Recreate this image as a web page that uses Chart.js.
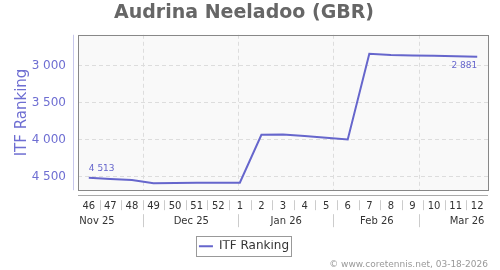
<!DOCTYPE html>
<html>
<head>
<meta charset="utf-8">
<script src="https://cdn.jsdelivr.net/npm/chart.js@4.4.1/dist/chart.umd.min.js"></script>
<style>
  html, body { margin: 0; padding: 0; background: #fff; }
  #wrap { width: 500px; height: 270px; }
</style>
</head>
<body>
<div id="wrap"><canvas id="chart"></canvas></div>
<script>
const weeks = ['46', '47', '48', '49', '50', '51', '52', '1', '2', '3', '4', '5', '6', '7', '8', '9', '10', '11', '12'];
const ranking = [4513, 4530, 4542, 4585, 4583, 4581, 4580, 4580, 3932, 3930, 3950, 3972, 3995, 2840, 2858, 2864, 2869, 2875, 2881];
const yTicks = [3000, 3500, 4000, 4500];
const months = ['Nov 25', 'Dec 25', 'Jan 26', 'Feb 26', 'Mar 26'];
// week index (fractional) where Dec, Jan, Feb, Mar begin
const monthStarts = [2.5, 6.92, 11.33, 15.32];
// where each month label sits on the week axis
const monthLabelAt = [0.38, 4.75, 9.15, 13.35, 17.53];

const lineColor = '#6666cc';
const axisColor = '#6e6ed2';

const fmt = v => String(Math.round(v)).replace(/\B(?=(\d{3})+(?!\d))/g, ' ');

Chart.defaults.font.family = '"DejaVu Sans", Verdana, sans-serif';

const decor = {
  id: 'decor',
  beforeDraw(chart) {
    const {ctx, chartArea: a} = chart;
    ctx.save();
    ctx.fillStyle = '#f9f9f9';
    ctx.fillRect(a.left, a.top, a.right - a.left, a.bottom - a.top);
    ctx.restore();
  },
  beforeDatasetsDraw(chart) {
    const {ctx, chartArea: a} = chart;
    const x = chart.scales.x;
    ctx.save();
    ctx.strokeStyle = '#dddddd';
    ctx.lineWidth = 1;
    ctx.setLineDash([4, 3]);
    monthStarts.forEach(m => {
      const px = Math.round(x.getPixelForValue(m)) + 0.5;
      ctx.beginPath();
      ctx.moveTo(px, a.top);
      ctx.lineTo(px, a.bottom);
      ctx.stroke();
    });
    ctx.restore();
  },
  afterDraw(chart) {
    const {ctx, chartArea: a} = chart;
    const x = chart.scales.x;
    ctx.save();
    // plot frame
    ctx.strokeStyle = '#888888';
    ctx.lineWidth = 1;
    ctx.strokeRect(Math.round(a.left) + 0.5, Math.round(a.top) + 0.5,
      Math.round(a.right - a.left), Math.round(a.bottom - a.top));
    // y axis line
    ctx.strokeStyle = '#c8c8ec';
    ctx.beginPath();
    ctx.moveTo(Math.round(a.left) - 4.5, a.top);
    ctx.lineTo(Math.round(a.left) - 4.5, a.bottom);
    ctx.stroke();
    // x axis line
    const yl = Math.round(a.bottom) + 5.5;
    ctx.strokeStyle = '#aaaaaa';
    ctx.beginPath();
    ctx.moveTo(a.left, yl);
    ctx.lineTo(a.right, yl);
    ctx.stroke();
    // week separators
    ctx.strokeStyle = '#cccccc';
    for (let i = 0; i < weeks.length - 1; i++) {
      const px = Math.round(x.getPixelForValue(i + 0.5)) + 0.5;
      ctx.beginPath();
      ctx.moveTo(px, a.bottom + 10);
      ctx.lineTo(px, a.bottom + 20);
      ctx.stroke();
    }
    // month separators
    monthStarts.forEach(m => {
      const px = Math.round(x.getPixelForValue(m)) + 0.5;
      ctx.beginPath();
      ctx.moveTo(px, a.bottom + 24);
      ctx.lineTo(px, a.bottom + 37);
      ctx.stroke();
    });
    // month labels
    ctx.fillStyle = '#333333';
    ctx.font = '10px "DejaVu Sans"';
    ctx.textAlign = 'center';
    ctx.textBaseline = 'middle';
    months.forEach((m, i) => {
      ctx.fillText(m, x.getPixelForValue(monthLabelAt[i]), a.bottom + 31);
    });
    // first / last value labels
    const pts = chart.getDatasetMeta(0).data;
    const first = pts[0], last = pts[pts.length - 1];
    ctx.fillStyle = lineColor;
    ctx.font = '9px "DejaVu Sans"';
    ctx.textAlign = 'left';
    ctx.fillText(fmt(ranking[0]), first.x, first.y - 9);
    ctx.textAlign = 'right';
    ctx.fillText(fmt(ranking[ranking.length - 1]), last.x, last.y + 9);
    // legend frame
    const lg = chart.legend;
    if (lg && lg.legendHitBoxes.length) {
      const hb = lg.legendHitBoxes[0];
      ctx.strokeStyle = '#999999';
      ctx.strokeRect(Math.round(hb.left) - 2.5, Math.round(hb.top + hb.height / 2) - 9.5,
        Math.round(hb.width) + 5, 20);
    }
    ctx.restore();
  }
};

new Chart(document.getElementById('chart'), {
  type: 'line',
  data: {
    labels: weeks,
    datasets: [{
      label: 'ITF Ranking',
      data: ranking,
      borderColor: lineColor,
      backgroundColor: lineColor,
      borderWidth: 2,
      pointRadius: 0,
      tension: 0
    }]
  },
  options: {
    responsive: true,
    maintainAspectRatio: false,
    animation: false,
    layout: { padding: { left: 0, right: 12, top: 0, bottom: 0 } },
    plugins: {
      title: {
        display: true,
        text: 'Audrina Neeladoo (GBR)',
        color: '#666666',
        font: { size: 19, weight: 'bold' },
        padding: { top: 2, bottom: 10 }
      },
      subtitle: {
        display: true,
        position: 'bottom',
        align: 'end',
        text: '© www.coretennis.net, 03-18-2026',
        color: '#999999',
        font: { size: 9 },
        padding: { top: -3, bottom: 0 }
      },
      legend: {
        position: 'bottom',
        labels: {
          usePointStyle: true,
          pointStyle: 'line',
          pointStyleWidth: 14,
          color: '#333333',
          font: { size: 12 },
          padding: 0
        }
      },
      tooltip: { enabled: false }
    },
    scales: {
      x: {
        type: 'category',
        offset: true,
        grid: { display: false, drawTicks: false },
        border: { display: false },
        ticks: {
          color: '#333333',
          font: { size: 10 },
          padding: 10,
          maxRotation: 0,
          autoSkip: false
        },
        afterFit: s => { s.height = 50; }
      },
      y: {
        reverse: true,
        min: 2585,
        max: 4680,
        afterBuildTicks: s => { s.ticks = yTicks.map(v => ({ value: v })); },
        afterFit: s => { s.width = 78; },
        grid: { color: '#dddddd', drawTicks: false },
        border: { display: false, dash: [4, 3] },
        ticks: {
          color: axisColor,
          font: { size: 12 },
          padding: 12,
          callback: v => fmt(v)
        },
        title: {
          display: true,
          text: 'ITF Ranking',
          color: axisColor,
          font: { size: 15 },
          padding: { top: 13, bottom: 0 }
        }
      }
    }
  },
  plugins: [decor]
});
</script>
</body>
</html>
